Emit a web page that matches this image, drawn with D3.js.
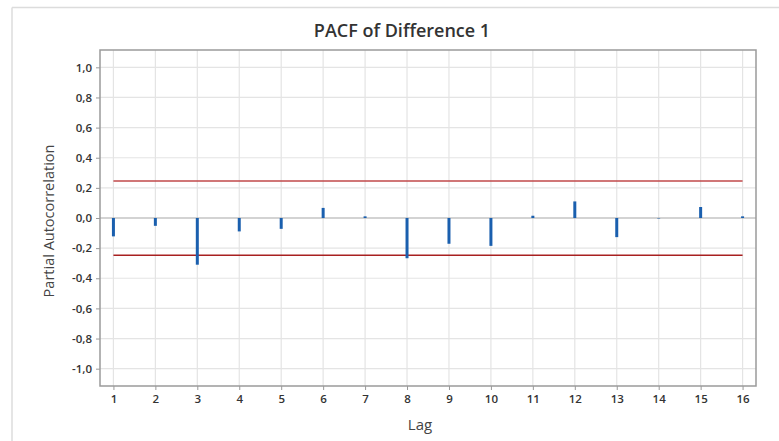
<!DOCTYPE html>
<html lang="en">
<head>
  <meta charset="UTF-8">
  <title>PACF of Difference 1</title>
  <style>
    body { margin: 0; background: #fff; }
    text { font-family: "Open Sans", "Noto Sans", sans-serif; }
  </style>
</head>
<body>
<svg id="chart" width="779" height="441"></svg>
<script src="https://cdn.jsdelivr.net/npm/d3@7"></script>
<script>
// lags and partial autocorrelation values
var lags = [1, 2, 3, 4, 5, 6, 7, 8, 9, 10, 11, 12, 13, 14, 15, 16];
var pacf = [-0.122, -0.052, -0.31, -0.089, -0.072, 0.067, 0.011, -0.267, -0.171, -0.185, 0.015, 0.11, -0.127, -0.003, 0.073, 0.011];
var limits = [0.245, -0.247];
var yTicks = [-1.0, -0.8, -0.6, -0.4, -0.2, 0.0, 0.2, 0.4, 0.6, 0.8, 1.0];

// plot box (note: "top" is reserved on window, so use other names)
var svg = d3.select("#chart"),
  pL = 100, pR = 756, pT = 50, pB = 386;

var x = d3.scaleLinear().domain([0.68, 16.32]).range([pL, pR]);
var y = d3.scaleLinear().domain([-1.115, 1.115]).range([pB, pT]);
var fmt = function (d) { return d3.format(".1f")(d).replace("−", "-").replace(".", ","); };

// outer frame (only top and left show)
svg.append("line").attr("x1", 12).attr("x2", 779).attr("y1", 7.5).attr("y2", 7.5)
  .attr("stroke", "#dcdcdc").attr("stroke-width", 1.5);
svg.append("line").attr("x1", 12).attr("x2", 12).attr("y1", 7.5).attr("y2", 441)
  .attr("stroke", "#dcdcdc").attr("stroke-width", 1.5);

// grid
svg.append("g").selectAll("line").data(lags).join("line")
  .attr("x1", d => x(d)).attr("x2", d => x(d)).attr("y1", pT).attr("y2", pB)
  .attr("stroke", "#e4e4e4").attr("stroke-width", 1.2);
svg.append("g").selectAll("line").data(yTicks).join("line")
  .attr("x1", pL).attr("x2", pR).attr("y1", d => y(d)).attr("y2", d => y(d))
  .attr("stroke", d => d === 0 ? "#a8a8a8" : "#e4e4e4").attr("stroke-width", 1.2);

// significance limits
svg.append("g").selectAll("line").data(limits).join("line")
  .attr("x1", x(1)).attr("x2", x(16)).attr("y1", d => y(d)).attr("y2", d => y(d))
  .attr("stroke", (d, i) => i === 0 ? "#c0484a" : "#a82020").attr("stroke-width", 1.5);

// spikes
svg.append("g").selectAll("line").data(lags).join("line")
  .attr("x1", d => x(d)).attr("x2", d => x(d))
  .attr("y1", y(0)).attr("y2", (d, i) => y(pacf[i]))
  .attr("stroke", "#1a5fae").attr("stroke-width", 3);

// axes
var yAxis = svg.append("g").attr("transform", "translate(" + pL + ",0)")
  .call(d3.axisLeft(y).tickValues(yTicks).tickFormat(fmt).tickSize(4).tickPadding(4));
var xAxis = svg.append("g").attr("transform", "translate(0," + pB + ")")
  .call(d3.axisBottom(x).tickValues(lags).tickFormat(d3.format("d")).tickSize(4).tickPadding(5));
[yAxis, xAxis].forEach(function (g) {
  g.select(".domain").remove();
  g.selectAll(".tick line").attr("stroke", "#999");
  g.selectAll("text").attr("fill", "#333").style("font-size", "11.5px").style("font-weight", "600");
});

// plot border
svg.append("rect").attr("x", pL).attr("y", pT)
  .attr("width", pR - pL).attr("height", pB - pT)
  .attr("fill", "none").attr("stroke", "#9a9a9a").attr("stroke-width", 1.5);

// titles
svg.append("text").attr("x", 402).attr("y", 37).attr("text-anchor", "middle")
  .attr("fill", "#333").style("font-size", "18px").style("font-weight", "600")
  .text("PACF of Difference 1");
svg.append("text").attr("x", 420).attr("y", 430).attr("text-anchor", "middle")
  .attr("fill", "#444").style("font-size", "15px").text("Lag");
svg.append("text").attr("transform", "translate(54,221) rotate(-90)").attr("text-anchor", "middle")
  .attr("fill", "#444").style("font-size", "14.5px").text("Partial Autocorrelation");
</script>
</body>
</html>
